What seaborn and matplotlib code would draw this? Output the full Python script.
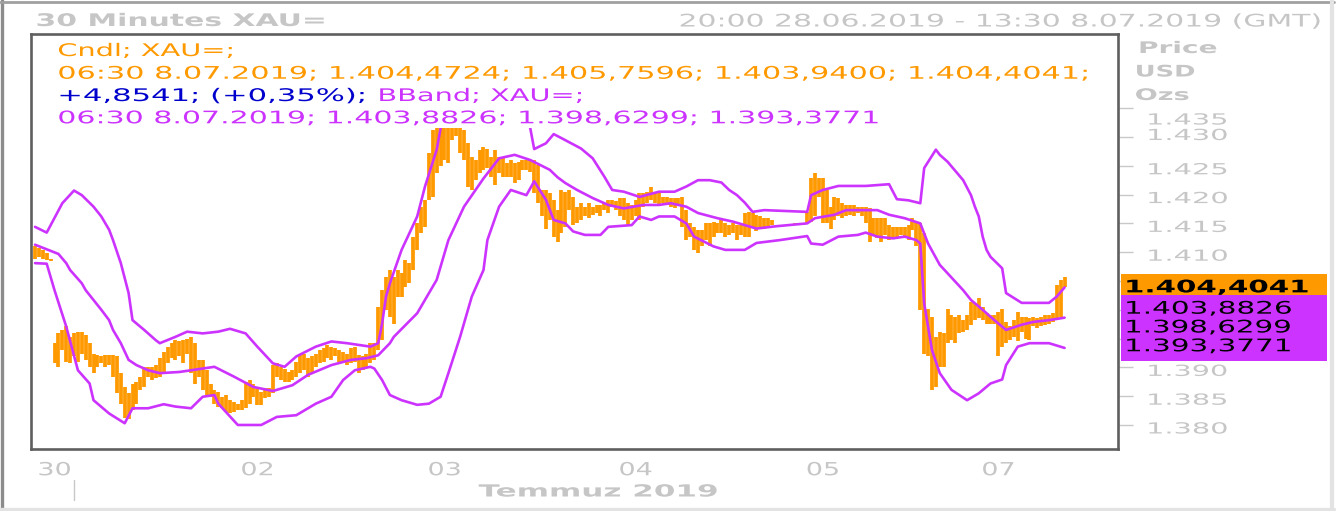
import numpy as np
import matplotlib
matplotlib.use("Agg")
import matplotlib.pyplot as plt
import seaborn as sns
from matplotlib.patches import Rectangle
from matplotlib.lines import Line2D
from matplotlib.patheffects import AbstractPathEffect
from matplotlib.transforms import Affine2D, blended_transform_factory

# ------------------------------------------------------------------ data
# 30-minute bars (high / low) per trading day, XAU= (USD/oz)
day_names = ["28", "30", "01", "02", "03", "04", "05", "07", "08"]

high_28 = [1411.0, 1410.7, 1410.4, 1409.8, 1408.9]
low_28 = [1408.9, 1409.2, 1408.9, 1408.6, 1408.5]

high_30 = [1394.2, 1395.9, 1396.5, 1397.1, 1395.3]
low_30 = [1390.7, 1390.1, 1393.0, 1391.0, 1390.7]

high_01 = [1395.9, 1396.2, 1396.2, 1395.6, 1394.2, 1392.4, 1392.1, 1391.9, 1392.1, 1392.1,
           1392.1, 1391.9, 1389.0, 1386.6, 1385.5, 1387.2, 1387.5, 1388.4, 1390.1, 1390.1,
           1390.1, 1390.4, 1391.6, 1392.7, 1393.6, 1394.2, 1394.7, 1394.5, 1394.7, 1395.0,
           1395.3, 1394.2, 1391.3, 1391.3, 1389.5, 1387.2, 1386.1, 1385.8, 1384.9, 1385.2,
           1384.3, 1384.0, 1383.7, 1384.3, 1387.5, 1387.8, 1387.2]
low_01 = [1391.9, 1391.0, 1392.4, 1391.3, 1390.1, 1389.0, 1390.1, 1390.7, 1390.1, 1390.4,
          1388.4, 1385.5, 1383.7, 1381.2, 1381.0, 1382.6, 1383.7, 1386.1, 1386.6, 1388.4,
          1387.8, 1388.1, 1388.4, 1389.0, 1390.7, 1391.6, 1391.3, 1391.9, 1390.7, 1392.4,
          1389.0, 1387.2, 1388.4, 1386.1, 1384.9, 1384.9, 1383.7, 1383.2, 1382.9, 1382.3,
          1382.0, 1382.3, 1382.6, 1382.6, 1382.9, 1383.7, 1384.9]

high_02 = [1386.6, 1385.8, 1386.4, 1386.4, 1390.4, 1390.7, 1390.1, 1389.8, 1389.2, 1389.5,
           1391.0, 1392.1, 1392.4, 1391.6, 1391.9, 1392.4, 1393.0, 1393.3, 1393.9, 1393.6,
           1393.3, 1393.0, 1392.7, 1392.4, 1393.3, 1393.6, 1392.1, 1391.9, 1392.4, 1394.2,
           1394.2, 1400.5, 1403.4, 1405.7, 1406.9, 1405.7, 1406.9, 1406.3, 1408.6, 1408.1,
           1412.7, 1415.0, 1417.9, 1419.1, 1427.2, 1431.2, 1435.0, 1436.0]
low_02 = [1383.5, 1383.5, 1384.6, 1384.9, 1385.5, 1388.4, 1387.8, 1387.5, 1387.5, 1387.8,
          1388.4, 1389.0, 1389.5, 1388.4, 1389.0, 1390.1, 1390.7, 1391.0, 1391.6, 1391.3,
          1391.9, 1391.0, 1390.7, 1390.4, 1390.7, 1391.0, 1389.0, 1389.5, 1390.1, 1390.7,
          1391.3, 1393.0, 1394.7, 1400.0, 1398.8, 1397.6, 1402.3, 1402.3, 1404.0, 1404.6,
          1406.9, 1410.4, 1413.3, 1414.4, 1419.1, 1419.6, 1423.7, 1424.9]

high_03 = [1437.0, 1437.5, 1438.5, 1439.5, 1437.0, 1431.2, 1428.9, 1426.6, 1426.0, 1427.8,
           1428.3, 1428.0, 1426.6, 1427.8, 1426.6, 1426.3, 1425.4, 1426.0, 1425.4, 1425.7,
           1426.0, 1426.0, 1426.0, 1426.0, 1425.1, 1420.8, 1420.8, 1420.2, 1419.1, 1417.3,
           1420.8, 1420.5, 1420.8, 1419.6, 1417.9, 1418.5, 1417.9, 1418.5, 1417.9, 1418.2,
           1418.2, 1418.5, 1419.1, 1419.1, 1418.8, 1419.4, 1419.4, 1418.5, 1418.2]
low_03 = [1426.0, 1425.4, 1429.5, 1430.1, 1427.2, 1426.0, 1421.4, 1420.8, 1422.5, 1423.7,
          1424.3, 1424.6, 1423.1, 1421.7, 1423.7, 1423.1, 1423.1, 1423.1, 1422.0, 1422.5,
          1424.3, 1424.3, 1424.0, 1420.2, 1418.5, 1416.2, 1414.1, 1415.6, 1412.7, 1411.8,
          1413.3, 1414.4, 1417.3, 1414.7, 1415.0, 1415.6, 1416.2, 1415.9, 1416.5, 1416.8,
          1416.2, 1417.3, 1416.8, 1417.9, 1417.3, 1416.2, 1415.6, 1414.7, 1415.6]

nan = float("nan")
high_04 = [1419.1, 1420.2, 1420.2, 1420.5, 1421.4, 1420.5, 1420.5, 1419.6, 1419.6, 1419.4,
           1419.4, 1419.4, 1419.6, 1417.3, 1415.0, 1414.4, 1413.9, 1413.9, 1415.0, 1415.0,
           1415.3, 1415.0, 1415.6, 1415.0, 1414.7, 1415.0, 1414.7, 1414.7, 1416.8, 1417.0,
           1416.8, 1416.5, 1416.2, 1415.9, 1415.9, 1415.6, nan, nan, nan, nan,
           nan, 1415.1, 1415.1, 1415.1, 1417.0, 1422.8, 1423.7, 1422.8]
low_04 = [1416.2, 1415.6, 1417.9, 1418.5, 1419.1, 1418.5, 1418.2, 1418.5, 1418.2, 1417.9,
          1417.6, 1418.2, 1414.4, 1412.1, 1412.7, 1410.4, 1409.8, 1411.0, 1412.1, 1411.0,
          1412.7, 1413.3, 1413.3, 1412.7, 1413.0, 1413.3, 1412.1, 1413.0, 1412.7, 1412.7,
          1414.4, 1413.6, 1414.4, 1414.1, 1414.4, 1414.7, nan, nan, nan, nan,
          nan, 1414.7, 1414.7, 1414.7, 1415.0, 1415.3, 1416.2, 1419.6]

high_05 = [1422.8, 1420.8, 1417.9, 1419.6, 1419.4, 1418.5, 1418.2, 1418.2, 1418.2, 1417.9,
           1417.9, 1417.9, 1417.6, 1415.9, 1415.9, 1415.9, 1415.9, 1414.7, 1414.4, 1414.4,
           1414.4, 1414.4, 1414.7, 1415.9, 1415.3, 1415.0, 1413.3, 1400.2, 1398.8, 1395.3,
           1396.2, 1395.9, 1400.2, 1399.1, 1398.8, 1399.1, 1398.2, 1399.1, 1401.4, 1401.1,
           1402.0, 1400.5, 1399.4, 1399.1, 1399.1]
low_05 = [1415.0, 1415.0, 1414.1, 1415.6, 1416.2, 1415.9, 1416.2, 1416.5, 1416.2, 1416.8,
          1416.2, 1415.0, 1411.8, 1413.0, 1412.4, 1411.8, 1413.0, 1412.1, 1412.7, 1412.4,
          1413.0, 1412.7, 1412.1, 1413.9, 1411.0, 1400.0, 1392.4, 1391.9, 1386.1, 1386.6,
          1390.1, 1390.1, 1394.2, 1394.7, 1394.2, 1395.9, 1396.2, 1396.5, 1397.4, 1398.2,
          1398.5, 1398.2, 1397.6, 1397.6, 1397.6]

high_07 = [1399.7, 1400.2, 1397.9, 1397.1]
low_07 = [1391.9, 1393.6, 1394.2, 1394.7]

high_08 = [1398.2, 1399.7, 1398.8, 1398.8, 1398.5, 1398.8, 1398.5, 1398.8, 1399.1, 1399.1,
           1399.4, 1404.3, 1405.2, 1405.7596]
low_08 = [1395.3, 1394.5, 1396.2, 1395.0, 1394.7, 1397.1, 1396.8, 1397.1, 1397.4, 1397.6,
          1397.9, 1398.5, 1398.8, 1403.9400]

# Bollinger bands (bar index, value)
upper_idx = [0, 3, 7, 10, 12, 15, 17, 19, 20, 22, 24, 25, 28, 31, 32, 36, 39, 43, 47, 50,
             54, 57, 61, 64, 67, 72, 76, 80, 83, 86, 88, 89, 90, 91, 94, 98, 100, 103, 104, 106,
             109, 112, 115, 118, 121, 124, 127, 128, 131, 133, 135, 140, 143, 146, 148, 151, 155, 160, 164, 167,
             170, 173, 176, 178, 180, 182, 184, 187, 198, 199, 202, 206, 213, 219, 221, 224, 227, 228, 231, 232,
             234, 238, 240, 241, 242, 243, 244, 245, 248, 249, 253, 260, 262, 264]
upper_val = [1414.4, 1413.4, 1418.5, 1420.7, 1419.9, 1417.9, 1416.2, 1413.9, 1412.1, 1408.1,
             1402.9, 1398.2, 1396.5, 1394.7, 1394.2, 1395.3, 1396.2, 1395.9, 1396.2, 1396.7,
             1395.9, 1393.6, 1390.7, 1390.1, 1391.9, 1393.6, 1394.5, 1394.2, 1393.9, 1393.6,
             1394.2, 1397.6, 1402.3, 1404.6, 1410.4, 1416.2, 1421.4, 1427.8, 1431.5, 1436.5,
             1440.5, 1442.5, 1443.0, 1442.0, 1440.0, 1437.0, 1431.5, 1427.9, 1428.9, 1430.5,
             1429.8, 1428.0, 1426.3, 1423.1, 1420.8, 1420.5, 1419.6, 1420.5, 1420.5, 1421.4,
             1422.5, 1422.5, 1422.1, 1420.8, 1419.9, 1418.6, 1417.0, 1417.3, 1417.0, 1419.9,
             1420.8, 1421.5, 1421.5, 1421.8, 1419.2, 1419.0, 1418.5, 1424.6, 1427.8, 1426.9,
             1425.7, 1422.5, 1419.9, 1417.9, 1416.2, 1412.7, 1410.4, 1409.2, 1407.2, 1402.9,
             1401.2, 1401.2, 1402.3, 1403.8826]

mid_idx = [0, 3, 6, 8, 9, 12, 13, 15, 17, 19, 20, 22, 24, 26, 29, 32, 37, 43, 46, 51,
           56, 61, 66, 70, 76, 81, 85, 88, 91, 92, 98, 103, 106, 110, 115, 119, 123, 127, 132, 134,
           136, 139, 143, 147, 151, 156, 160, 163, 167, 170, 175, 179, 182, 185, 190, 198, 200, 205, 208, 216,
           219, 223, 227, 229, 232, 238, 240, 243, 246, 249, 253, 256, 260, 264]
mid_val = [1411.3, 1410.5, 1409.7, 1408.1, 1406.9, 1404.6, 1403.4, 1401.7, 1400.0, 1398.2,
           1396.5, 1394.2, 1391.3, 1390.4, 1389.5, 1389.0, 1389.2, 1389.8, 1390.1, 1388.4,
           1386.6, 1385.9, 1386.9, 1388.7, 1390.4, 1391.3, 1391.6, 1392.1, 1394.2, 1395.3,
           1399.4, 1405.2, 1412.1, 1417.9, 1422.8, 1426.3, 1426.9, 1426.0, 1424.3, 1423.0,
           1422.0, 1420.8, 1419.4, 1418.2, 1417.6, 1418.2, 1418.2, 1418.5, 1417.9, 1416.8,
           1415.9, 1415.3, 1414.7, 1414.1, 1414.5, 1415.0, 1415.9, 1416.5, 1417.3, 1417.3,
           1416.5, 1415.9, 1415.0, 1411.5, 1407.8, 1403.4, 1401.7, 1400.0, 1398.2, 1396.5,
           1397.4, 1397.9, 1398.2, 1398.6299]

lower_idx = [0, 3, 5, 8, 11, 14, 15, 19, 23, 25, 29, 33, 36, 40, 43, 46, 47, 52, 58, 62,
             67, 72, 76, 79, 82, 86, 87, 89, 91, 94, 98, 101, 104, 106, 109, 112, 115, 116, 119, 122,
             126, 128, 131, 133, 136, 138, 141, 145, 147, 153, 155, 158, 160, 164, 167, 169, 174, 177, 182, 185,
             191, 198, 199, 202, 206, 211, 213, 216, 220, 223, 226, 227, 228, 230, 232, 235, 239, 242, 245, 248,
             249, 252, 255, 260, 264]
lower_val = [1408.1, 1408.0, 1403.4, 1397.1, 1389.5, 1387.2, 1384.3, 1382.0, 1380.3, 1382.9,
             1382.9, 1383.6, 1383.2, 1382.9, 1384.9, 1385.2, 1383.7, 1380.0, 1380.0, 1381.4,
             1381.7, 1383.7, 1384.9, 1387.8, 1389.5, 1390.1, 1389.8, 1387.8, 1385.2, 1384.3,
             1383.5, 1383.7, 1384.9, 1389.0, 1395.3, 1402.3, 1406.9, 1412.1, 1417.9, 1420.8,
             1419.9, 1422.3, 1419.1, 1415.6, 1415.0, 1413.6, 1413.0, 1413.0, 1414.4, 1414.7,
             1416.2, 1415.6, 1416.2, 1416.2, 1415.0, 1412.7, 1411.0, 1410.4, 1410.4, 1411.6,
             1412.1, 1412.8, 1411.5, 1411.3, 1412.7, 1413.0, 1413.4, 1412.7, 1412.4, 1412.7,
             1412.1, 1411.5, 1401.1, 1393.0, 1389.0, 1386.1, 1384.3, 1385.5, 1387.2, 1387.9,
             1390.4, 1393.6, 1394.2, 1394.2, 1393.3771]

# Last bar / indicator read-outs
last_time = "06:30 8.07.2019"
last_ohlc = [1404.4724, 1405.7596, 1403.9400, 1404.4041]
last_change = 4.8541
last_change_pct = 0.35
last_bband = [1403.8826, 1398.6299, 1393.3771]

# Axis labels
tick_days = ["30", "01", "02", "03", "04", "05", "07"]
tick_texts = ["30", "", "02", "03", "04", "05", "07"]
y_ticks = [1380, 1385, 1390, 1395, 1400, 1405, 1410, 1415, 1420, 1425, 1430, 1435]
y_hidden = [1395, 1400, 1405]          # labels covered by the value boxes
title_text = "30 Minutes XAU="
range_text = "20:00 28.06.2019 - 13:30 8.07.2019 (GMT)"
month_text = "Temmuz 2019"
unit_texts = ["Price", "USD", "Ozs"]

# ------------------------------------------------------------------ helpers
highs_by_day = [high_28, high_30, high_01, high_02, high_03, high_04, high_05, high_07, high_08]
lows_by_day = [low_28, low_30, low_01, low_02, low_03, low_04, low_05, low_07, low_08]
high = np.concatenate([np.array(h, float) for h in highs_by_day])
low = np.concatenate([np.array(l, float) for l in lows_by_day])
idx = np.arange(len(high))
day_start = dict(zip(day_names, np.cumsum([0] + [len(h) for h in highs_by_day])[:-1]))
tick_pos = [int(day_start[d]) for d in tick_days]


def tr(v, nd=4):
    s = f"{v:,.{nd}f}"
    return s.replace(",", "X").replace(".", ",").replace("X", ".")


class HStretch(AbstractPathEffect):
    """Draw text stretched horizontally (the reference uses a very wide face)."""

    def __init__(self, sx=1.0, anchor="left", dy=0.0):
        super().__init__()
        self.sx, self.anchor, self.dy = sx, anchor, dy

    def draw_path(self, renderer, gc, tpath, affine, rgbFace=None):
        if self.anchor == "left":
            x0 = affine.get_matrix()[0, 2]
        else:
            ext = affine.transform_path(tpath).get_extents()
            x0 = ext.x1 if self.anchor == "right" else 0.5 * (ext.x0 + ext.x1)
        t = affine + Affine2D().translate(-x0, 0).scale(self.sx, 1.0).translate(x0, self.dy)
        renderer.draw_path(gc, tpath, t, rgbFace)


W, H = 1338, 511
fx = lambda x: x / W
fy = lambda y: 1 - y / H

ORANGE = "#FF9900"
PURPLE = "#CC33FF"
BLUE = "#0000CC"
GRAY = "#c6c6c6"

sns.set_style("white")
plt.rcParams["font.family"] = ["DejaVu Sans"]

fig = plt.figure(figsize=(W / 100, H / 100), dpi=100)
fig.patch.set_facecolor("white")
ax = fig.add_axes([fx(31.5), fy(449), (1118 - 31.5) / W, (449 - 34) / H])
ax.set_facecolor("white")

# bars
ok = np.isfinite(high) & np.isfinite(low)
ax.vlines(idx[ok], low[ok], high[ok], colors=ORANGE, linewidth=2.7, zorder=2)

# Bollinger bands via seaborn
for bx, by in [(upper_idx, upper_val), (mid_idx, mid_val), (lower_idx, lower_val)]:
    sns.lineplot(x=bx, y=by, ax=ax, color=PURPLE, linewidth=1.9, estimator=None,
                 sort=False, legend=False, zorder=2)

ax.set_xlim(-0.9, 277.7)
ax.set_ylim(1375.83, 1447.88)
ax.set_xlabel("")
ax.set_ylabel("")
ax.grid(False)
for s in ax.spines.values():
    s.set_color("#5f5f5f")
    s.set_linewidth(1.9)
    s.set_zorder(5)

ax.yaxis.tick_right()
ax.set_yticks(y_ticks)
ax.set_yticklabels(["" if v in y_hidden else f"{v:,.0f}".replace(",", ".") for v in y_ticks])
ax.tick_params(axis="y", which="major", right=True, left=False, labelright=True,
               labelleft=False, length=10.8, width=1.0, color="#c8c8c8", pad=9.4,
               labelsize=11, labelcolor=GRAY)
ax.set_xticks(tick_pos)
ax.set_xticklabels(tick_texts)
ax.tick_params(axis="x", which="major", length=5.8, width=1.0, color="#c8c8c8", pad=3,
               labelsize=13, labelcolor=GRAY)

# legend block with white background (covers top of the plot)
fig.add_artist(Rectangle((fx(33), fy(128)), (1116.5 - 33) / W, (128 - 36) / H,
                         transform=fig.transFigure, facecolor="white", edgecolor="none",
                         zorder=1.5))

texts = []  # (text, target width px, anchor)


def ftext(x, y, s, width, anchor="left", **kw):
    ha = {"left": "left", "center": "center", "right": "right"}[anchor]
    t = fig.text(fx(x), fy(y), s, ha=ha, va="baseline", **kw)
    texts.append((t, width, anchor))
    return t


leg_fs = 12.5
ftext(57.3, 56, "Cndl; XAU=;", 177.7, color=ORANGE, fontsize=leg_fs)
ftext(57.3, 78.7, f"{last_time}; " + "; ".join(tr(v) for v in last_ohlc) + ";", 1026.7,
      color=ORANGE, fontsize=leg_fs)
ftext(57.3, 101, f"+{tr(last_change)}; (+{tr(last_change_pct, 2)}%);", 308.7,
      color=BLUE, fontsize=leg_fs)
ftext(377.4, 101, "BBand; XAU=;", 207, color=PURPLE, fontsize=leg_fs)
ftext(57.3, 123.3, f"{last_time}; " + "; ".join(tr(v) for v in last_bband), 820.7,
      color=PURPLE, fontsize=leg_fs)

# header
ftext(35.5, 26, title_text, 292, color=GRAY, fontsize=12.5, fontweight="bold")
ftext(678.5, 26.5, range_text, 642.5, color=GRAY, fontsize=12.5)
for s, x, y, w in zip(unit_texts, [1138, 1134.7, 1134.7], [53, 76.5, 100], [80, 61, 55]):
    ftext(x, y, s, w, color=GRAY, fontsize=11.5, fontweight="bold")
ftext(598, 496.5, month_text, 239.4, anchor="center", color=GRAY, fontsize=12, fontweight="bold")

# month separator mark under the axis (start of July)
ax.plot([day_start["01"], day_start["01"]], [fy(479.5), fy(500)], color="#c8c8c8", lw=1.0,
        transform=blended_transform_factory(ax.transData, fig.transFigure), clip_on=False)

# last-value boxes on the price scale
fig.canvas.draw()
yc = ax.transData.transform((0, last_ohlc[3]))[1]
yc_px = H - yc
otop = yc_px - 10.25
fig.add_artist(Rectangle((fx(1120.5), fy(otop + 20.5)), (1327 - 1120.5) / W, 20.5 / H,
                         transform=fig.transFigure, facecolor=ORANGE, edgecolor="none", zorder=1))
ptop = otop + 20.5
fig.add_artist(Rectangle((fx(1120.5), fy(ptop + 66)), (1327 - 1120.5) / W, 66 / H,
                         transform=fig.transFigure, facecolor=PURPLE, edgecolor="none", zorder=1))
ftext(1124, otop + 18.2, tr(last_ohlc[3]), 185, color="black", fontsize=12.5, fontweight="bold")
for k, v in enumerate(last_bband):
    ftext(1124, ptop + 19 + 18.8 * k, tr(v), 168, color="black", fontsize=12.5)

# outer frame of the image
for (x0, y0, x1, y1, c, lw) in [(2, 0, 2, 511, "#8c8c8c", 2.4), (0, 2, 1334, 2, "#a0a0a0", 2.0),
                                (1331.5, 0, 1331.5, 511, "#e3e3e3", 3.0),
                                (0, 509, 1334, 509, "#e3e3e3", 2.4)]:
    fig.add_artist(Line2D([fx(x0), fx(x1)], [fy(y0), fy(y1)], color=c, lw=lw,
                          transform=fig.transFigure, zorder=2))

# apply horizontal stretching so the text widths match the wide reference face
fig.canvas.draw()
r = fig.canvas.get_renderer()
for t, wt, anc in texts:
    w = t.get_window_extent(renderer=r).width
    if w > 0:
        t.set_path_effects([HStretch(wt / w, anc)])

ydy = {1435: -10.3, 1430: 3.0}
for tk in ax.yaxis.get_major_ticks():
    lab = tk.label2
    w = lab.get_window_extent(renderer=r).width
    if w > 0:
        lab.set_path_effects([HStretch(82 / w, "left", ydy.get(int(round(tk.get_loc())), -2.5))])
for tk in ax.xaxis.get_major_ticks():
    lab = tk.label1
    w = lab.get_window_extent(renderer=r).width
    if w > 0:
        lab.set_path_effects([HStretch(34 / w, "center")])

fig.savefig("out.png", dpi=100, facecolor="white")
